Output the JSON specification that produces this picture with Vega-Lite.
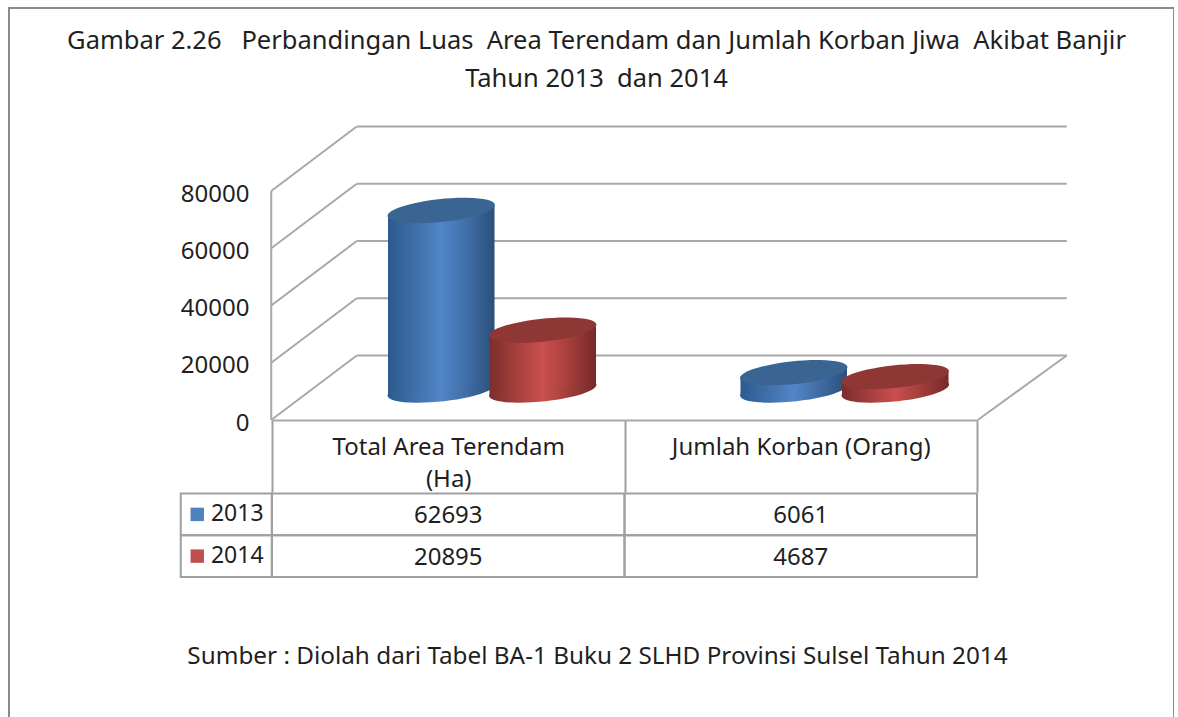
{
"$schema":"https://vega.github.io/schema/vega-lite/v6.json",
"width":1165,"height":712,
"autosize":{"type":"none"},
"padding":{"left":9,"top":8,"right":0,"bottom":0},
"background":"white",
"config":{"view":{"stroke":"#8a8a8a","strokeWidth":2},"font":"Noto Sans"},
"title":{"text":["Gambar 2.26 \u00a0 Perbandingan Luas \u00a0Area Terendam dan Jumlah Korban Jiwa \u00a0Akibat Banjir","Tahun 2013 \u00a0dan 2014"],"anchor":"middle","frame":"group","orient":"top","offset":-18,"dy":66,"dx":5,"baseline":"top","fontSize":25.5,"fontWeight":"normal","color":"#1f1f1f","font":"Noto Sans","lineHeight":38},
"datasets":{
"bars":[
{"category":"Total Area Terendam (Ha)","year":"2013","value":62693},
{"category":"Jumlah Korban (Orang)","year":"2013","value":6061},
{"category":"Total Area Terendam (Ha)","year":"2014","value":20895},
{"category":"Jumlah Korban (Orang)","year":"2014","value":4687}],
"grid":[{"v":0},{"v":20000},{"v":40000},{"v":60000},{"v":80000}]
},
"layer":[
{"layer":[
{"data":{"name":"grid"},
 "mark":{"type":"rule","stroke":"#a8a8a8","strokeWidth":2,"xOffset":-91.5,"x2Offset":266,"yOffset":-64.5,"y2Offset":-64.5},
 "encoding":{
  "x":{"datum":"Total Area Terendam (Ha)","type":"nominal","scale":{"domain":["Total Area Terendam (Ha)","Jumlah Korban (Orang)"],"range":[263,968],"paddingInner":0,"paddingOuter":0}},
  "x2":{"datum":"Jumlah Korban (Orang)"},
  "y":{"field":"v","type":"quantitative","scale":{"domain":[0,80000],"range":[412,183],"nice":false,"zero":false},
   "axis":{"values":[0,20000,40000,60000,80000],"title":null,"domain":false,"ticks":false,"grid":false,"orient":"left","offset":-240,"labelPadding":0,"labelFontSize":24,"labelColor":"#1f1f1f","labelFont":"Noto Sans","labelAlign":"right","labelBaseline":"middle","labelFlush":false,"labelOverlap":false,"labelOffset":3,"format":"d"}},
  "y2":{"field":"v"}}},
{"data":{"name":"grid"},
 "mark":{"type":"rule","stroke":"#a8a8a8","strokeWidth":2,"xOffset":-177,"x2Offset":-91.5,"y2Offset":-64.5},
 "encoding":{
  "x":{"datum":"Total Area Terendam (Ha)","type":"nominal"},
  "x2":{"datum":"Total Area Terendam (Ha)"},
  "y":{"field":"v","type":"quantitative"},
  "y2":{"field":"v"}}},
{"data":{"name":"grid"},"transform":[{"filter":"datum.v==0"}],
 "mark":{"type":"rule","stroke":"#a8a8a8","strokeWidth":2,"xOffset":-177},
 "encoding":{
  "x":{"datum":"Total Area Terendam (Ha)","type":"nominal"},
  "y":{"field":"v","type":"quantitative"},
  "y2":{"datum":80000}}},
{"data":{"name":"grid"},"transform":[{"filter":"datum.v==0"}],
 "mark":{"type":"rule","stroke":"#a8a8a8","strokeWidth":2,"xOffset":177,"x2Offset":266,"y2Offset":-64.5},
 "encoding":{
  "x":{"datum":"Jumlah Korban (Orang)","type":"nominal"},
  "x2":{"datum":"Jumlah Korban (Orang)"},
  "y":{"field":"v","type":"quantitative"},
  "y2":{"field":"v"}}},

{"data":{"name":"bars"},"transform":[{"filter":"datum.year=='2013'"}],
 "mark":{"type":"point","filled":true,"opacity":1,"size":11664,"shape":"M -0.9945 0.1045 A 1 0.21 -6 1 1 0.9945 -0.1045 A 1 0.21 -6 1 1 -0.9945 0.1045 Z","xOffset":-7,"yOffset":-30,
  "fill":{"gradient":"linear","x1":0,"y1":0,"x2":1,"y2":0,"stops":[{"offset":0,"color":"#2c5a8e"},{"offset":0.5,"color":"#5286c8"},{"offset":1,"color":"#2b4f7a"}]}},
 "encoding":{"x":{"field":"category","type":"nominal"},"y":{"datum":0,"type":"quantitative"}}},
{"data":{"name":"bars"},"transform":[{"filter":"datum.year=='2013'"}],
 "mark":{"type":"bar","width":53.5,"xOffset":-33.5,"yOffset":-26,"y2Offset":-26,
  "fill":{"gradient":"linear","x1":0,"y1":0,"x2":1,"y2":0,"stops":[{"offset":0,"color":"#2c5a8e"},{"offset":0.6,"color":"#4273ae"},{"offset":1,"color":"#5286c8"}]}},
 "encoding":{"x":{"field":"category","type":"nominal"},"y":{"field":"value","type":"quantitative","stack":null},"y2":{"datum":0}}},
{"data":{"name":"bars"},"transform":[{"filter":"datum.year=='2013'"}],
 "mark":{"type":"bar","width":53.5,"xOffset":19.5,"yOffset":-34,"y2Offset":-34,
  "fill":{"gradient":"linear","x1":0,"y1":0,"x2":1,"y2":0,"stops":[{"offset":0,"color":"#5286c8"},{"offset":0.4,"color":"#4273ae"},{"offset":1,"color":"#2b4f7a"}]}},
 "encoding":{"x":{"field":"category","type":"nominal"},"y":{"field":"value","type":"quantitative","stack":null},"y2":{"datum":0}}},
{"data":{"name":"bars"},"transform":[{"filter":"datum.year=='2013'"}],
 "mark":{"type":"point","filled":true,"opacity":1,"size":11664,"shape":"M -0.9945 0.1045 A 1 0.21 -6 1 1 0.9945 -0.1045 A 1 0.21 -6 1 1 -0.9945 0.1045 Z","xOffset":-7,"yOffset":-30,"fill":"#3a6593"},
 "encoding":{"x":{"field":"category","type":"nominal"},"y":{"field":"value","type":"quantitative"}}},

{"data":{"name":"bars"},"transform":[{"filter":"datum.year=='2014'"}],
 "mark":{"type":"point","filled":true,"opacity":1,"size":11664,"shape":"M -0.9945 0.1045 A 1 0.21 -6 1 1 0.9945 -0.1045 A 1 0.21 -6 1 1 -0.9945 0.1045 Z","xOffset":94.5,"yOffset":-30,
  "fill":{"gradient":"linear","x1":0,"y1":0,"x2":1,"y2":0,"stops":[{"offset":0,"color":"#7a2e2d"},{"offset":0.5,"color":"#c9504d"},{"offset":1,"color":"#752a29"}]}},
 "encoding":{"x":{"field":"category","type":"nominal"},"y":{"datum":0,"type":"quantitative"}}},
{"data":{"name":"bars"},"transform":[{"filter":"datum.year=='2014'"}],
 "mark":{"type":"bar","width":53.5,"xOffset":68,"yOffset":-26,"y2Offset":-26,
  "fill":{"gradient":"linear","x1":0,"y1":0,"x2":1,"y2":0,"stops":[{"offset":0,"color":"#7a2e2d"},{"offset":0.6,"color":"#ae423f"},{"offset":1,"color":"#c9504d"}]}},
 "encoding":{"x":{"field":"category","type":"nominal"},"y":{"field":"value","type":"quantitative","stack":null},"y2":{"datum":0}}},
{"data":{"name":"bars"},"transform":[{"filter":"datum.year=='2014'"}],
 "mark":{"type":"bar","width":53.5,"xOffset":121,"yOffset":-34,"y2Offset":-34,
  "fill":{"gradient":"linear","x1":0,"y1":0,"x2":1,"y2":0,"stops":[{"offset":0,"color":"#c9504d"},{"offset":0.4,"color":"#ae423f"},{"offset":1,"color":"#752a29"}]}},
 "encoding":{"x":{"field":"category","type":"nominal"},"y":{"field":"value","type":"quantitative","stack":null},"y2":{"datum":0}}},
{"data":{"name":"bars"},"transform":[{"filter":"datum.year=='2014'"}],
 "mark":{"type":"point","filled":true,"opacity":1,"size":11664,"shape":"M -0.9945 0.1045 A 1 0.21 -6 1 1 0.9945 -0.1045 A 1 0.21 -6 1 1 -0.9945 0.1045 Z","xOffset":94.5,"yOffset":-30,"fill":"#8e3735"},
 "encoding":{"x":{"field":"category","type":"nominal"},"y":{"field":"value","type":"quantitative"}}}
]},
{"layer":[
{"data":{"name":"bars"},
 "mark":{"type":"rect","fill":"transparent","stroke":"#a0a0a0","strokeWidth":2},
 "encoding":{
  "x":{"field":"category","type":"nominal","axis":{"title":"Sumber : Diolah dari Tabel BA-1 Buku 2 SLHD Provinsi Sulsel Tahun 2014","titleFontSize":24.3,"titleFontWeight":"normal","titleColor":"#1f1f1f","titleFont":"Noto Sans","titleX":588,"titleY":236,"titleAlign":"center","titleBaseline":"middle","titleAnchor":"middle","orient":"bottom","offset":-300,"tickBand":"extent","tickSize":72,"tickColor":"#a0a0a0","tickWidth":2,"domainColor":"#a8a8a8","domainWidth":2,"labelAngle":0,"labelAlign":"center","labelFontSize":24,"labelColor":"#1f1f1f","labelFont":"Noto Sans","labelPadding":-57,"labelBaseline":"top","labelLineHeight":32,"labelLimit":400,"labelOverlap":false,"labelFlush":false,"labelExpr":"datum.value=='Total Area Terendam (Ha)'?['Total Area Terendam','(Ha)']:datum.value"}},
  "y":{"field":"year","type":"nominal","axis":null,"scale":{"domain":["2013","2014"],"range":[485.5,569],"paddingInner":0,"paddingOuter":0}}}},
{"data":{"name":"bars"},"transform":[{"filter":"datum.category=='Total Area Terendam (Ha)'"}],
 "mark":{"type":"rect","fill":"transparent","stroke":"#a0a0a0","strokeWidth":2,"width":91,"xOffset":-222},
 "encoding":{"x":{"field":"category","type":"nominal"},"y":{"field":"year","type":"nominal","axis":null}}},
{"data":{"name":"bars"},
 "mark":{"type":"text","fontSize":24,"font":"Noto Sans","color":"#1f1f1f","yOffset":2},
 "encoding":{"x":{"field":"category","type":"nominal"},"y":{"field":"year","type":"nominal","axis":null},"text":{"field":"value","type":"quantitative","format":"d"}}},
{"data":{"name":"bars"},"transform":[{"filter":"datum.category=='Total Area Terendam (Ha)'"}],
 "mark":{"type":"point","shape":"square","filled":true,"opacity":1,"size":180,"xOffset":-251,"yOffset":0},
 "encoding":{"x":{"field":"category","type":"nominal"},"y":{"field":"year","type":"nominal","axis":null},"color":{"field":"year","type":"nominal","legend":null,"scale":{"domain":["2013","2014"],"range":["#4f81bd","#c0504d"]}}}},
{"data":{"name":"bars"},"transform":[{"filter":"datum.category=='Total Area Terendam (Ha)'"}],
 "mark":{"type":"text","fontSize":23,"font":"Noto Sans","color":"#1f1f1f","xOffset":-211,"yOffset":0},
 "encoding":{"x":{"field":"category","type":"nominal"},"y":{"field":"year","type":"nominal","axis":null},"text":{"field":"year","type":"nominal"}}}
]}
],
"resolve":{"scale":{"y":"independent"}}
}
